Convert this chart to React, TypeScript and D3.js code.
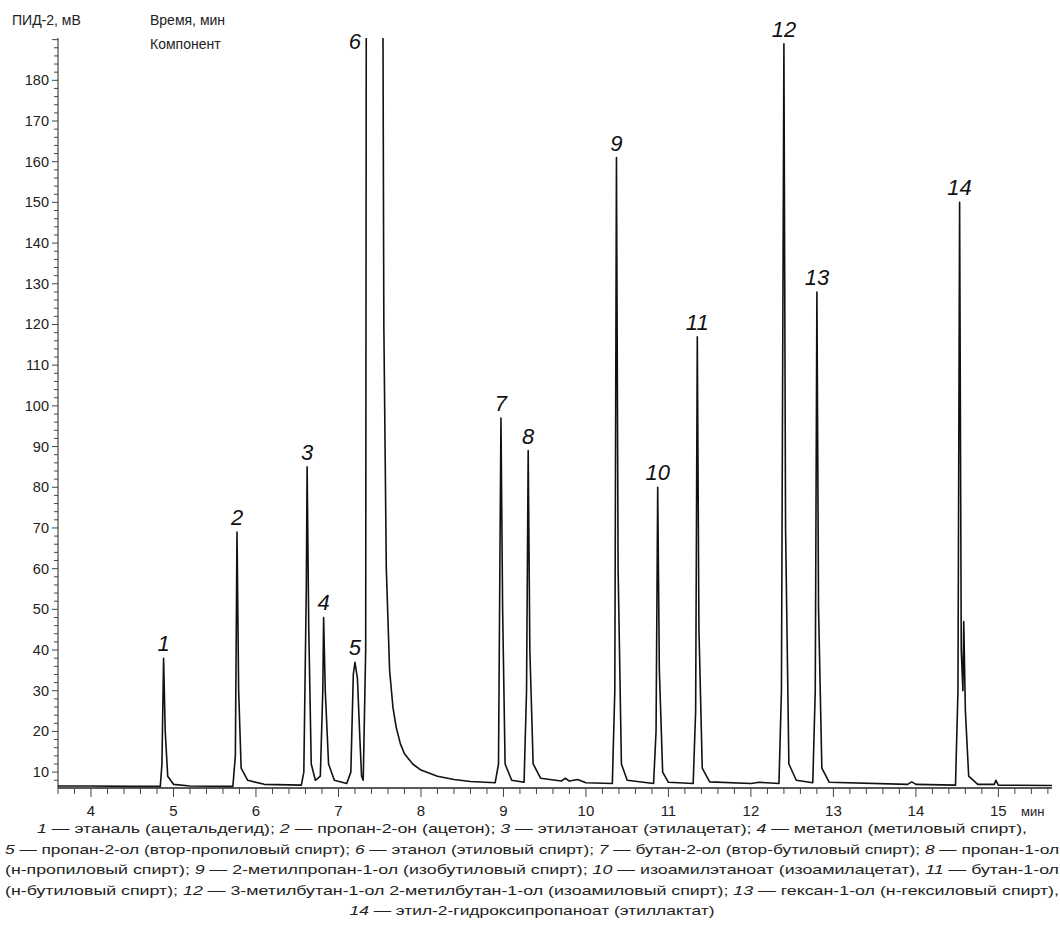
import React, { useEffect, useRef } from 'react';
import * as d3 from 'd3';

// trace points [min, mV]
const trace: [number, number][] = [
  [3.6, 6.6], [4.0, 6.6], [4.5, 6.5], [4.84, 6.5], [4.86, 12], [4.88, 38], [4.9, 20], [4.93, 9], [5.0, 7], [5.2, 6.6],
  [5.72, 6.5], [5.75, 14], [5.77, 69], [5.79, 30], [5.82, 11], [5.9, 8], [6.1, 7], [6.55, 6.8],
  [6.58, 10], [6.61, 55], [6.62, 85], [6.64, 45], [6.67, 12], [6.72, 8], [6.78, 9], [6.81, 30], [6.82, 48], [6.84, 30], [6.88, 12], [6.95, 8], [7.1, 7.2],
  [7.15, 10], [7.18, 34], [7.2, 37], [7.23, 33], [7.26, 18], [7.28, 9], [7.3, 8],
  [7.33, 40], [7.34, 260], [7.53, 260], [7.55, 120], [7.58, 60], [7.62, 35], [7.66, 26], [7.7, 21], [7.75, 17], [7.8, 14.5], [7.9, 12], [8.0, 10.5],
  [8.2, 9], [8.4, 8.2], [8.6, 7.7], [8.9, 7.4], [8.94, 12], [8.96, 70], [8.97, 97], [8.99, 50], [9.02, 12], [9.1, 8],
  [9.25, 7.5], [9.28, 30], [9.3, 89], [9.32, 40], [9.36, 12], [9.45, 8.5], [9.7, 7.8], [9.75, 8.5], [9.8, 7.8], [9.9, 8.2], [10.0, 7.4],
  [10.32, 7.2], [10.35, 30], [10.37, 161], [10.39, 60], [10.43, 12], [10.5, 8], [10.82, 7.2], [10.85, 20], [10.87, 80], [10.89, 35], [10.93, 10], [11.0, 7.5],
  [11.3, 7.2], [11.33, 25], [11.35, 117], [11.37, 45], [11.41, 11], [11.5, 7.6], [12.0, 7.2], [12.1, 7.5], [12.34, 7.2], [12.37, 30], [12.4, 189], [12.42, 70], [12.46, 12], [12.55, 8],
  [12.75, 7.4], [12.78, 30], [12.8, 128], [12.82, 50], [12.86, 11], [12.95, 7.5], [13.9, 7], [13.95, 7.6], [14.0, 7], [14.48, 6.8],
  [14.51, 30], [14.53, 150], [14.55, 40], [14.57, 30], [14.58, 47], [14.6, 25], [14.64, 9], [14.75, 7], [14.95, 7], [14.97, 8], [15.0, 6.8], [15.65, 6.7]
];

const peakLabels: { n: string; t: number; v: number }[] = [
  { n: '1', t: 4.88, v: 38 }, { n: '2', t: 5.77, v: 69 }, { n: '3', t: 6.62, v: 85 }, { n: '4', t: 6.82, v: 48 },
  { n: '5', t: 7.2, v: 37 }, { n: '6', t: 7.2, v: 186 }, { n: '7', t: 8.97, v: 97 }, { n: '8', t: 9.3, v: 89 },
  { n: '9', t: 10.37, v: 161 }, { n: '10', t: 10.87, v: 80 }, { n: '11', t: 11.35, v: 117 }, { n: '12', t: 12.4, v: 189 },
  { n: '13', t: 12.8, v: 128 }, { n: '14', t: 14.53, v: 150 }
];

const xTicks = [4, 5, 6, 7, 8, 9, 10, 11, 12, 13, 14, 15];
const yTicks = [10, 20, 30, 40, 50, 60, 70, 80, 90, 100, 110, 120, 130, 140, 150, 160, 170, 180];

// caption lines: [italic number, text] pairs
const caption: [string, string][][] = [
  [['1', ' — этаналь (ацетальдегид); '], ['2', ' — пропан-2-он (ацетон); '], ['3', ' — этилэтаноат (этилацетат); '], ['4', ' — метанол (метиловый спирт),']],
  [['5', ' — пропан-2-ол (втор-пропиловый спирт); '], ['6', ' — этанол (этиловый спирт); '], ['7', ' — бутан-2-ол (втор-бутиловый спирт); '], ['8', ' — пропан-1-ол']],
  [['', '(н-пропиловый спирт); '], ['9', ' — 2-метилпропан-1-ол (изобутиловый спирт); '], ['10', ' — изоамилэтаноат  (изоамилацетат), '], ['11', ' — бутан-1-ол']],
  [['', '(н-бутиловый спирт); '], ['12', ' — 3-метилбутан-1-ол 2-метилбутан-1-ол (изоамиловый спирт); '], ['13', ' — гексан-1-ол (н-гексиловый спирт),']],
  [['14', ' — этил-2-гидроксипропаноат (этиллактат)']]
];
const captionWidths = [990, 1054, 1054, 1054, 365];

const App: React.FC = () => {
  const ref = useRef<SVGSVGElement>(null);

  useEffect(() => {
    if (!ref.current) return;
    const svg = d3.select(ref.current);
    svg.selectAll('*').remove();

    const left = 58, right = 1052, top = 38, bottom = 788;
    const x = d3.scaleLinear().domain([3.6, 15.65]).range([left, right]);
    const y = d3.scaleLinear().domain([6.1, 190.4]).range([bottom, top]);
    const font = 'Arial, "Liberation Sans", sans-serif';

    svg.append('clipPath').attr('id', 'plot')
      .append('rect').attr('x', left).attr('y', top).attr('width', right - left).attr('height', bottom - top);

    // y axis
    const yAxis = svg.append('g').attr('transform', `translate(${left},0)`);
    yAxis.append('line').attr('y1', top).attr('y2', bottom).attr('stroke', '#222');
    d3.range(8, 191, 2).forEach(v => {
      const major = v % 10 === 0;
      yAxis.append('line').attr('x1', major ? -6 : -4).attr('x2', 0).attr('y1', y(v)).attr('y2', y(v)).attr('stroke', '#444');
    });
    yAxis.selectAll('text.yt').data(yTicks).enter().append('text')
      .attr('x', -9).attr('y', d => y(d) + 5).attr('text-anchor', 'end')
      .attr('font-family', font).attr('font-size', 14.5).attr('fill', '#222').text(d => d);

    // x axis
    const xAxis = svg.append('g').attr('transform', `translate(0,${bottom})`);
    xAxis.append('line').attr('x1', left).attr('x2', right).attr('stroke', '#222').attr('stroke-width', 1.5);
    d3.range(3.6, 15.61, 0.2).forEach(t => {
      const major = Math.abs(t - Math.round(t)) < 0.01;
      xAxis.append('line').attr('x1', x(t)).attr('x2', x(t)).attr('y1', 0).attr('y2', major ? 9 : 6).attr('stroke', '#444');
    });
    xAxis.selectAll('text.xt').data(xTicks).enter().append('text')
      .attr('x', d => x(d)).attr('y', 28).attr('text-anchor', 'middle')
      .attr('font-family', font).attr('font-size', 15).attr('fill', '#222').text(d => d);
    xAxis.append('text').attr('x', 1021).attr('y', 28).attr('font-family', font).attr('font-size', 13).attr('fill', '#222').text('мин');

    // header texts
    svg.append('text').attr('x', 12).attr('y', 25).attr('font-family', font).attr('font-size', 14).attr('fill', '#222').text('ПИД-2, мВ');
    svg.append('text').attr('x', 150).attr('y', 25).attr('font-family', font).attr('font-size', 14).attr('fill', '#222').text('Время, мин');
    svg.append('text').attr('x', 150).attr('y', 49).attr('font-family', font).attr('font-size', 14).attr('fill', '#222').text('Компонент');

    // trace
    const line = d3.line<[number, number]>().x(d => x(d[0])).y(d => y(d[1]));
    svg.append('path').datum(trace).attr('d', line).attr('clip-path', 'url(#plot)')
      .attr('fill', 'none').attr('stroke', '#111').attr('stroke-width', 1.6).attr('stroke-linejoin', 'round');

    // peak labels
    svg.selectAll('text.pk').data(peakLabels).enter().append('text')
      .attr('x', d => x(d.t)).attr('y', d => y(d.v) - 7).attr('text-anchor', 'middle')
      .attr('font-family', font).attr('font-style', 'italic').attr('font-size', 22).attr('fill', '#111')
      .text(d => d.n);

    // caption
    caption.forEach((row, i) => {
      const t = svg.append('text').attr('x', 532).attr('y', 833 + i * 20.5).attr('text-anchor', 'middle')
        .attr('font-family', font).attr('font-size', 13).attr('fill', '#222')
        .attr('textLength', captionWidths[i]).attr('lengthAdjust', 'spacingAndGlyphs');
      row.forEach(([n, s]) => {
        if (n) t.append('tspan').attr('font-style', 'italic').text(n);
        t.append('tspan').text(s);
      });
    });
  }, []);

  return (
    <svg ref={ref} width={1060} height={940}
      style={{ position: 'absolute', left: 0, top: 0, background: '#fff' }} />
  );
};

export default App;
